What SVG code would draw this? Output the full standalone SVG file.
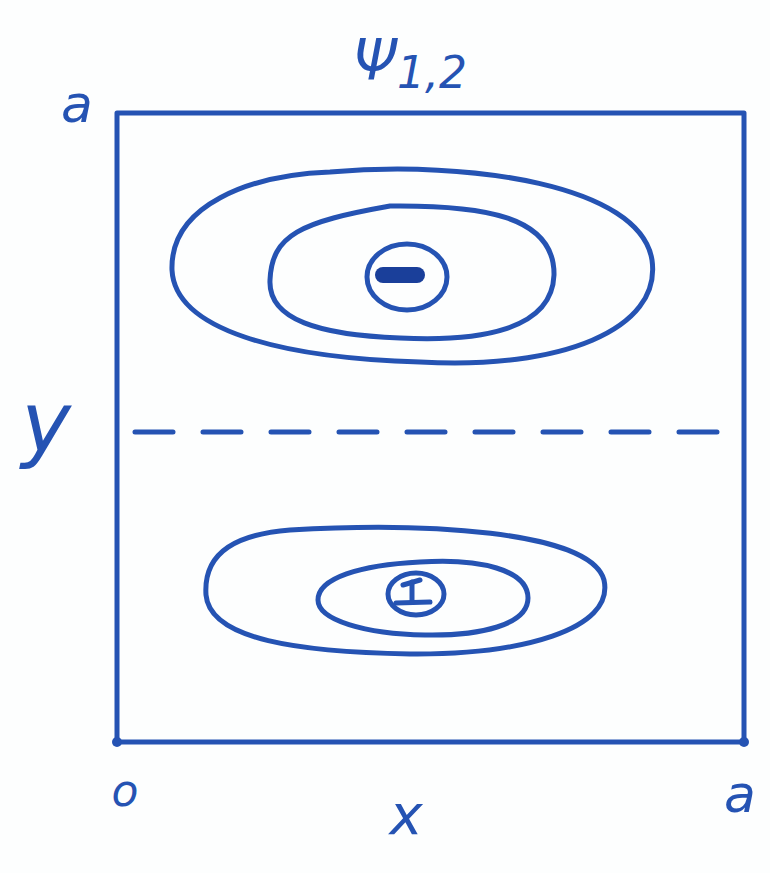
<svg xmlns="http://www.w3.org/2000/svg" width="770" height="873" viewBox="0 0 770 873">
<style>
.ink{fill:none;stroke:#2553b3;stroke-width:5;stroke-linecap:round;stroke-linejoin:round}
.lbl{fill:#2553b3;font-family:"DejaVu Sans","Liberation Sans",sans-serif;font-style:italic}
</style>
<rect width="770" height="873" fill="#fdfefe"/>
<g id="frame">
<rect class="ink" x="117" y="113" width="627" height="629"/>
<circle cx="117" cy="742" r="5" fill="#2553b3"/>
<circle cx="744" cy="742" r="5" fill="#2553b3"/>
</g>
<g id="connectors">
<line class="ink" x1="135" y1="432" x2="722" y2="432" stroke-dasharray="38,30"/>
</g>
<g id="top-lobe">
<path class="ink" d="M330,172 C470,160 640,185 652,260 C662,330 560,370 420,362 C280,358 175,330 172,270 C170,205 250,175 330,172 Z"/>
<path class="ink" d="M390,206 C480,205 555,215 554,275 C552,330 480,342 400,338 C320,335 268,320 270,280 C272,235 300,222 390,206 Z"/>
<ellipse class="ink" cx="407" cy="277" rx="40" ry="33"/>
<rect x="375" y="267" width="50" height="16" rx="8" fill="#1a3f9a"/>
</g>
<g id="bottom-lobe">
<path class="ink" d="M290,530 C420,522 590,530 604,580 C615,630 520,655 410,654 C300,652 210,640 206,595 C203,550 240,534 290,530 Z"/>
<path class="ink" d="M420,562 C480,558 528,570 528,598 C528,625 480,636 425,635 C365,634 318,620 318,600 C318,578 360,565 420,562 Z"/>
<ellipse class="ink" cx="416" cy="594" rx="28" ry="21"/>
<line class="ink" x1="403" y1="585" x2="420" y2="580"/>
<line class="ink" x1="412" y1="582" x2="412" y2="602"/>
<line class="ink" x1="396" y1="603" x2="430" y2="602"/>
</g>
<g id="labels">
<text class="lbl" x="410" y="80" font-size="56" text-anchor="middle">Ψ<tspan font-size="44" dy="8">1,2</tspan></text>
<text class="lbl" x="77" y="122" font-size="52" text-anchor="middle">a</text>
<text class="lbl" x="46" y="452" font-size="84" text-anchor="middle">y</text>
<text class="lbl" x="125" y="806" font-size="44" text-anchor="middle">o</text>
<text class="lbl" x="406" y="834" font-size="56" text-anchor="middle">x</text>
<text class="lbl" x="740" y="812" font-size="52" text-anchor="middle">a</text>
</g>
</svg>
